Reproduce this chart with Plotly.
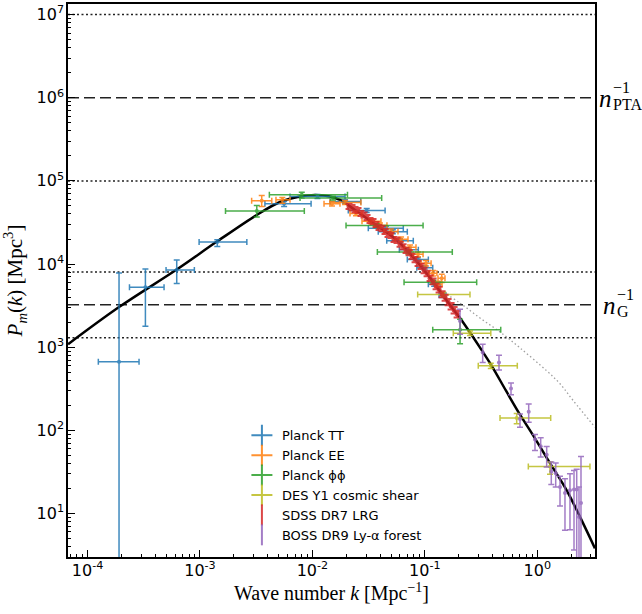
import numpy as np
import plotly.graph_objects as go

# ---------------- data ----------------
# nonlinear matter power spectrum (solid black)
curve_k = [6.71e-5, 1.906e-4, 6.21e-4, 1.425e-3, 3.197e-3, 5.150e-3, 7.76e-3, 0.01055,
           0.01434, 0.01759, 0.02392, 0.03319, 0.05652, 0.1003, 0.1674, 0.2054, 0.3093,
           0.3930, 0.5268, 0.7017, 0.9213, 1.2527, 1.8255, 2.398, 3.26]
curve_P = [1086, 3038, 8594, 18750, 38940, 55760, 64860, 67590,
           64860, 58920, 44710, 32550, 19280, 8200, 3211, 2243, 989,
           597, 299.7, 154.6, 86.6, 43.5, 19.0, 9.11, 3.81]

# linear spectrum (grey dotted)
lin_k = [0.1364, 0.2054, 0.3093, 0.4658, 0.7017, 1.212, 1.592, 2.090, 3.26]
lin_P = [4856, 3393, 2243, 1525, 980.8, 520.3, 363.5, 227.5, 108.9]

# Planck TT
tt_k = [1.905e-4, 3.27e-4, 6.21e-4, 1.425e-3, 5.6e-3, 0.01109, 0.0195, 0.0304, 0.0450,
        0.0519, 0.0601, 0.0719, 0.0865, 0.0998, 0.121, 0.1435]
tt_k_lo = [1.247e-4, 2.36e-4, 4.99e-4, 9.82e-4, 3.78e-3, 6.32e-3, 0.01436, 0.02084, 0.0314,
           0.0385, 0.0458, 0.0593, 0.0698, 0.0848, 0.1074, 0.1337]
tt_k_hi = [2.87e-4, 4.79e-4, 8.91e-4, 2.61e-3, 9.73e-3, 0.0195, 0.0269, 0.0443, 0.0643,
           0.0698, 0.0789, 0.0875, 0.1074, 0.1175, 0.1365, 0.1542]
tt_P = [667, 5270, 8490, 18400, 53100, 64900, 56500, 44100, 27000,
        24500, 19000, 14900, 11320, 9030, 5730, 4200]
tt_P_lo = [0.5, 1783, 5840, 16200, 49200, 61400, 53500, 41800, 25600,
           23200, 18000, 14100, 10700, 8500, 5400, 3950]
tt_P_hi = [7820, 8730, 11190, 19650, 56500, 68500, 59500, 46400, 28400,
           25800, 20000, 15700, 11900, 9550, 6050, 4450]

# Planck EE
ee_k = [3.54e-3, 5.40e-3, 0.01493, 0.0195, 0.0244, 0.0332, 0.0399, 0.0500, 0.0614,
        0.0738, 0.0869, 0.1023, 0.118, 0.1309, 0.1413]
ee_k_lo = [2.88e-3, 4.74e-3, 0.01268, 0.01436, 0.0216, 0.0276, 0.0353, 0.0434, 0.0543,
           0.0653, 0.0785, 0.0925, 0.1089, 0.123, 0.1309]
ee_k_hi = [4.35e-3, 6.32e-3, 0.01758, 0.0270, 0.0276, 0.0407, 0.0460, 0.0577, 0.0708,
           0.0834, 0.0964, 0.1136, 0.128, 0.1422, 0.151]
ee_P = [57600, 59200, 53100, 55000, 40600, 32600, 29200, 24700, 19800,
        15900, 13100, 10230, 7760, 5730, 6760]
ee_P_lo = [49200, 54000, 50000, 52000, 38000, 30500, 27300, 23000, 18500,
           14800, 12200, 9500, 7200, 5300, 6000]
ee_P_hi = [66700, 63100, 56500, 58200, 43400, 34800, 31200, 26400, 21200,
           17000, 14000, 11000, 8350, 6200, 7550]

# Planck phi-phi
pp_k = [3.20e-3, 8.04e-3, 0.01524, 0.0373, 0.0713, 0.1189, 0.2056]
pp_k_lo = [1.686e-3, 4.14e-3, 7.76e-3, 0.0199, 0.0378, 0.0653, 0.1175]
pp_k_hi = [8.47e-3, 0.0205, 0.0413, 0.0964, 0.1754, 0.289, 0.473]
pp_P = [43500, 67900, 62200, 29000, 13960, 6050, 1625]
pp_P_lo = [36800, 61900, 59000, 27500, 13200, 5700, 1104]
pp_P_hi = [50600, 73000, 65500, 30600, 14700, 6400, 2163]

# DES Y1 cosmic shear
des_k = [0.1459, 0.252, 0.386, 0.656, 1.297]
des_k_lo = [0.0863, 0.179, 0.2985, 0.466, 0.832]
des_k_hi = [0.252, 0.386, 0.664, 1.316, 2.94]
des_P = [4310, 1472, 597, 141, 36.8]
des_P_lo = [4050, 1380, 555, 120, 29.6]
des_P_hi = [4580, 1570, 640, 160, 41.5]

# SDSS DR7 LRG
lrg_k = [0.02116, 0.02250, 0.02392, 0.02543, 0.02705, 0.02877, 0.03059, 0.03253, 0.03459,
         0.03678, 0.03912, 0.04160, 0.04423, 0.04704, 0.05002, 0.05321, 0.05657, 0.06016,
         0.06398, 0.06804, 0.07235, 0.07694, 0.08183, 0.08702, 0.09254, 0.09840, 0.10464,
         0.11128, 0.11834, 0.12585, 0.13383, 0.14232, 0.15135, 0.16095, 0.17115, 0.18197,
         0.19352]
lrg_P = [49200, 47900, 45300, 44100, 40600, 39100, 36300, 33500, 32500,
         29900, 27600, 26800, 24700, 22700, 22100, 19800, 19300, 17300,
         16200, 14600, 13800, 12400, 11300, 10200, 9400, 8400, 7700,
         6760, 6200, 5420, 4950, 4350, 3950, 3490, 3120, 2800,
         2500]
lrg_err = [3400, 3400, 3200, 3100, 2900, 2700, 2500, 2400, 2300,
           2100, 1900, 1900, 1700, 1600, 1550, 1400, 1350, 1200,
           1150, 1050, 1000, 900, 820, 750, 700, 630, 580,
           520, 480, 430, 400, 360, 330, 300, 270, 250,
           230]

# BOSS DR9 Ly-alpha forest
lya_k = [0.2054, 0.3268, 0.4564, 0.5836, 0.7017, 0.8386, 0.9539, 1.072, 1.212,
         1.332, 1.458, 1.592, 1.763, 1.953, 2.121, 2.241, 2.349, 2.447]
lya_P = [2065, 861.5, 654.6, 319.3, 137.4, 167.9, 77.6, 64.6, 50.9,
         32.1, 30.6, 20.8, 17.7, 19.0, 19.4, 19.4, 9.1, 13.4]
lya_P_lo = [1431, 654.6, 530.6, 268.4, 108.9, 125.0, 57.3, 47.7, 36.2,
            22.4, 20.8, 12.3, 6.3, 6.4, 3.63, 0.5, 0.5, 0.5]
lya_P_hi = [2851, 1086, 801.7, 370.6, 157.7, 207.5, 89.1, 81.3, 64.0,
            41.5, 40.4, 28.0, 26.2, 30.1, 33.0, 34.0, 20.8, 48.5]

# horizontal reference levels (n^-1 values and their bands)
ref_levels = [1e7, 1e6, 1e5, 8000, 3250, 1300]
ref_dashes = ["2px,2.5px", "11px,5px", "2px,2.5px", "2px,2.5px", "11px,5px", "2px,2.5px"]
n_pta_inv = 1e6
n_g_inv = 3250

# axes
k_range = [6.7e-5, 3.26]
P_range = [3.0, 1.34e7]
x_tickvals = [1e-4, 1e-3, 1e-2, 1e-1, 1]
x_ticktext = ["10<sup>-4</sup>", "10<sup>-3</sup>", "10<sup>-2</sup>", "10<sup>-1</sup>", "10<sup>0</sup>"]
y_tickvals = [1e1, 1e2, 1e3, 1e4, 1e5, 1e6, 1e7]
y_ticktext = ["10<sup>1</sup>", "10<sup>2</sup>", "10<sup>3</sup>", "10<sup>4</sup>",
              "10<sup>5</sup>", "10<sup>6</sup>", "10<sup>7</sup>"]

# ---------------- figure ----------------
SERIF = "Liberation Serif, Times New Roman, serif"
SANS = "DejaVu Sans, sans-serif"

fig = go.Figure()

for lev, dsh in zip(ref_levels, ref_dashes):
    fig.add_trace(go.Scatter(x=k_range, y=[lev, lev], mode="lines",
                             line=dict(color="#222", width=1.5, dash=dsh),
                             showlegend=False, hoverinfo="skip"))

fig.add_trace(go.Scatter(x=lin_k, y=lin_P, mode="lines",
                         line=dict(color="#a0a0a0", width=1.3, dash="1.5px,2.5px", shape="spline"),
                         showlegend=False))
fig.add_trace(go.Scatter(x=curve_k, y=curve_P, mode="lines",
                         line=dict(color="black", width=2.5, shape="spline"),
                         showlegend=False))


def minus(v, lo):
    return [a - b for a, b in zip(v, lo)]


def plus(v, hi):
    return [b - a for a, b in zip(v, hi)]


xy_sets = [
    ("Planck TT", "#1f77b4", tt_k, tt_k_lo, tt_k_hi, tt_P, tt_P_lo, tt_P_hi),
    ("Planck EE", "#ff7f0e", ee_k, ee_k_lo, ee_k_hi, ee_P, ee_P_lo, ee_P_hi),
    ("Planck ϕϕ", "#2ca02c", pp_k, pp_k_lo, pp_k_hi, pp_P, pp_P_lo, pp_P_hi),
    ("DES Y1 cosmic shear", "#bcbd22", des_k, des_k_lo, des_k_hi, des_P, des_P_lo, des_P_hi),
]
for name, col, k, klo, khi, P, Plo, Phi in xy_sets:
    fig.add_trace(go.Scatter(
        x=k, y=P, mode="markers", opacity=0.85,
        marker=dict(color=col, size=4),
        error_x=dict(type="data", symmetric=False, array=plus(k, khi), arrayminus=minus(k, klo),
                     color=col, thickness=1.5, width=3),
        error_y=dict(type="data", symmetric=False, array=plus(P, Phi), arrayminus=minus(P, Plo),
                     color=col, thickness=1.5, width=3),
        showlegend=False))

fig.add_trace(go.Scatter(
    x=lrg_k, y=lrg_P, mode="markers", opacity=0.85,
    marker=dict(color="#d62728", size=5),
    error_y=dict(type="data", array=lrg_err, color="#d62728", thickness=2, width=3.5),
    showlegend=False))

fig.add_trace(go.Scatter(
    x=lya_k, y=lya_P, mode="markers", opacity=0.85,
    marker=dict(color="#9467bd", size=4),
    error_y=dict(type="data", symmetric=False, array=plus(lya_P, lya_P_hi),
                 arrayminus=minus(lya_P, lya_P_lo), color="#9467bd", thickness=1.5, width=3),
    showlegend=False))

# legend entries
legend_items = [
    ("Planck TT", "#1f77b4", "cross-thin"),
    ("Planck EE", "#ff7f0e", "cross-thin"),
    ("Planck ϕϕ", "#2ca02c", "cross-thin"),
    ("DES Y1 cosmic shear", "#bcbd22", "cross-thin"),
    ("SDSS DR7 LRG", "#d62728", "line-ns"),
    ("BOSS DR9 Ly-α forest", "#9467bd", "line-ns"),
]
for name, col, sym in legend_items:
    fig.add_trace(go.Scatter(x=[None], y=[None], mode="markers", name=name, opacity=0.85,
                             marker=dict(symbol=sym, size=15, color=col,
                                         line=dict(color=col, width=2))))

# n^-1 labels
for val, sub, dx in [(n_pta_inv, "PTA", 0.0), (n_g_inv, "G", 0.008)]:
    ly = float(np.log10(val))
    fig.add_annotation(x=1.004 + dx, y=ly, xref="paper", yref="y", xanchor="left", yanchor="middle",
                       text="<i>n</i>", showarrow=False, font=dict(family=SERIF, size=25, color="black"),
                       yshift=-1)
    fig.add_annotation(x=1.03 + dx, y=ly, xref="paper", yref="y", xanchor="left", yanchor="middle",
                       text="−1", showarrow=False, font=dict(family=SERIF, size=16, color="black"),
                       yshift=10)
    fig.add_annotation(x=1.03 + dx, y=ly, xref="paper", yref="y", xanchor="left", yanchor="middle",
                       text=sub, showarrow=False, font=dict(family=SERIF, size=16, color="black"),
                       yshift=-7)

minor_x = [m * 10.0 ** e for e in range(-5, 1) for m in range(2, 10)]
minor_y = [m * 10.0 ** e for e in range(0, 8) for m in range(2, 10)]

fig.update_xaxes(type="log", range=[np.log10(k_range[0]), np.log10(k_range[1])],
                 tickmode="array", tickvals=x_tickvals, ticktext=x_ticktext,
                 ticks="inside", ticklen=7, tickwidth=1.2, tickcolor="black",
                 ticklabelstandoff=-2,
                 minor=dict(tickmode="array", tickvals=minor_x, ticks="inside", ticklen=3.5,
                            tickwidth=1, tickcolor="black", showgrid=False),
                 showline=True, linecolor="black", linewidth=1.5, mirror=True,
                 showgrid=False, zeroline=False,
                 tickfont=dict(family=SANS, size=16, color="black"),
                 title=dict(text="Wave number <i>k</i> [Mpc<sup>−1</sup>]",
                            font=dict(family=SERIF, size=20, color="black"), standoff=6))
fig.update_yaxes(type="log", range=[np.log10(P_range[0]), np.log10(P_range[1])],
                 tickmode="array", tickvals=y_tickvals, ticktext=y_ticktext,
                 ticks="inside", ticklen=7, tickwidth=1.2, tickcolor="black",
                 ticklabelstandoff=-1,
                 minor=dict(tickmode="array", tickvals=minor_y, ticks="inside", ticklen=3.5,
                            tickwidth=1, tickcolor="black", showgrid=False),
                 showline=True, linecolor="black", linewidth=1.5, mirror=True,
                 showgrid=False, zeroline=False,
                 tickfont=dict(family=SANS, size=16, color="black"),
                 title=dict(text="<i>P</i><sub><i>m</i></sub>(<i>k</i>) [Mpc<sup>3</sup>]",
                            font=dict(family=SERIF, size=21, color="black"), standoff=8))

fig.update_layout(
    width=642, height=614,
    margin=dict(l=68, r=47, t=2, b=57),
    paper_bgcolor="white", plot_bgcolor="white",
    legend=dict(x=0.33, y=0.012, xanchor="left", yanchor="bottom",
                bgcolor="rgba(0,0,0,0)", font=dict(family=SANS, size=13, color="black"),
                tracegroupgap=0, itemwidth=30),
)

fig.write_html("out.html", config={"displayModeBar": False},
               post_script="document.body.style.margin='0';")
